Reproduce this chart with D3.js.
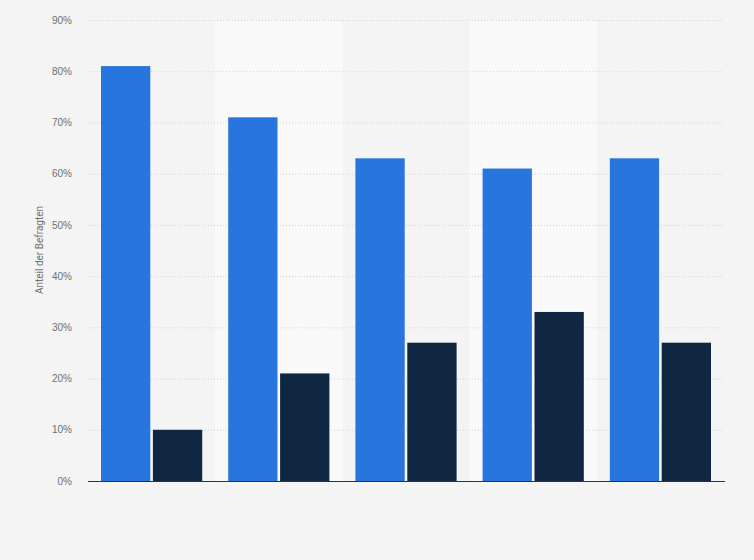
<!DOCTYPE html>
<html>
<head>
<meta charset="utf-8">
<script src="https://cdn.jsdelivr.net/npm/d3@7"></script>
<style>
  body { margin: 0; background: #f4f4f4; }
  svg { display: block; font-family: Roboto, "Liberation Sans", Arial, sans-serif; }
</style>
</head>
<body>
<svg></svg>
<script>
// data (category names are not shown in the chart)
const categories = ['A', 'B', 'C', 'D', 'E'];
const seriesA = [81, 71, 63, 61, 63];
const seriesB = [10, 21, 27, 33, 27];
const yTicks = [0, 10, 20, 30, 40, 50, 60, 70, 80, 90];
const yAxisTitle = 'Anteil der Befragten';

const width = 754;
const height = 560;
const margin = {top: 20, right: 30, bottom: 79, left: 88};
const innerW = width - margin.left - margin.right;
const innerH = height - margin.top - margin.bottom;

const svg = d3.select('svg')
    .attr('width', width)
    .attr('height', height);

svg.append('rect')
    .attr('width', width)
    .attr('height', height)
    .attr('fill', '#f4f4f4');

const g = svg.append('g')
    .attr('transform', `translate(${margin.left},${margin.top})`);

const x = d3.scaleBand()
    .domain(categories)
    .range([0, innerW]);

const inner = d3.scaleBand()
    .domain(['a', 'b'])
    .range([13, x.bandwidth() - 13])
    .paddingInner(0.05);

const y = d3.scaleLinear()
    .domain([0, 90])
    .range([innerH, 0]);

// alternating bands
g.selectAll('.band')
    .data(categories.filter((d, i) => i % 2 === 1))
    .enter().append('rect')
    .attr('class', 'band')
    .attr('x', d => x(d))
    .attr('y', 0)
    .attr('width', x.bandwidth())
    .attr('height', innerH)
    .attr('fill', '#f9f9f9');

// grid + y labels
const yAxis = d3.axisLeft(y)
    .tickValues(yTicks)
    .tickSize(-innerW)
    .tickPadding(16)
    .tickFormat(d => d + '%');

const yAxisG = g.append('g').call(yAxis);
yAxisG.select('.domain').remove();
yAxisG.selectAll('.tick line')
    .attr('stroke', '#d0d0d0')
    .attr('stroke-dasharray', '1,2');
yAxisG.selectAll('.tick text')
    .attr('fill', '#707070')
    .style('font-size', '10px');

g.append('text')
    .attr('transform', 'rotate(-90)')
    .attr('x', -230)
    .attr('y', -45)
    .attr('text-anchor', 'middle')
    .attr('fill', '#707070')
    .style('font-size', '10px')
    .text(yAxisTitle);

const rows = categories.map((c, i) => ({c, a: seriesA[i], b: seriesB[i]}));

g.selectAll('.barA')
    .data(rows)
    .enter().append('rect')
    .attr('class', 'barA')
    .attr('x', d => x(d.c) + inner('a'))
    .attr('y', d => y(d.a))
    .attr('width', inner.bandwidth())
    .attr('height', d => innerH - y(d.a))
    .attr('fill', '#2876dd');

g.selectAll('.barB')
    .data(rows)
    .enter().append('rect')
    .attr('class', 'barB')
    .attr('x', d => x(d.c) + inner('b'))
    .attr('y', d => y(d.b))
    .attr('width', inner.bandwidth())
    .attr('height', d => innerH - y(d.b))
    .attr('fill', '#0f2740');

// baseline
g.append('line')
    .attr('x1', 0)
    .attr('x2', innerW + 1)
    .attr('y1', innerH + 0.5)
    .attr('y2', innerH + 0.5)
    .attr('stroke', '#333')
    .attr('stroke-width', 1);
</script>
</body>
</html>
